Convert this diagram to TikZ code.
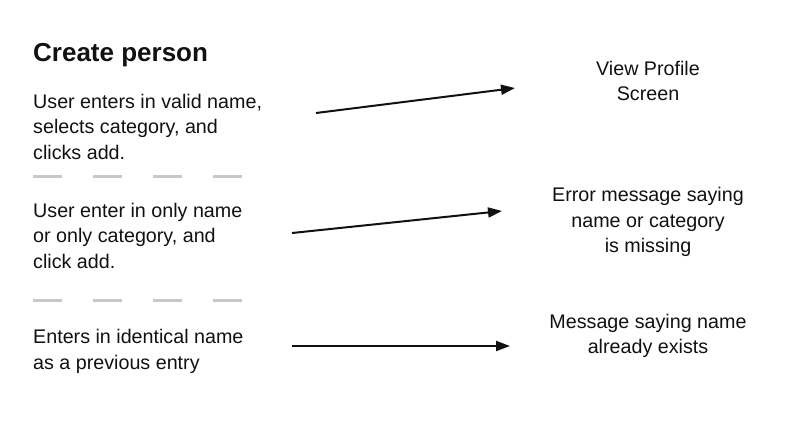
\documentclass[tikz,border=0pt]{standalone}
\usepackage{fontspec}
\setmainfont{Liberation Sans}
\usetikzlibrary{arrows.meta, positioning}
\definecolor{ink}{HTML}{111111}
\definecolor{rule}{HTML}{C8C8C8}

\begin{document}
\begin{tikzpicture}[
  x=1pt, y=-1pt,
  font=\fontsize{19.7}{25.5}\selectfont, color=ink,
  case/.style={anchor=west, align=left, inner sep=0pt},
  result/.style={align=center, inner sep=0pt},
  sep/.style={draw=rule, line width=3pt, dash pattern=on 29pt off 31pt},
  flow/.style={-{Triangle[length=14pt, width=10pt]}, draw=ink, line width=2pt}
]
  \useasboundingbox (0,0) rectangle (800,440);

  \node[anchor=base west, inner sep=0pt, font=\fontsize{26}{30}\selectfont\bfseries] (title) at (33,61) {Create person};

  \node[case] (c1) at (33,126.5) {User enters in valid name,\\selects category, and\\clicks add.};
  \node[case] (c2) at (33,235.5) {User enter in only name\\or only category, and\\click add.};
  \node[case] (c3) at (33,351.5) {Enters in identical name\\as a previous entry};

  \node[result] (r1) at (648,81) {View Profile\\Screen};
  \node[result] (r2) at (648,222) {Error message saying\\name or category\\is missing};
  \node[result] (r3) at (648,336) {Message saying name\\already exists};

  \draw[sep] (33,176) -- (242,176);
  \draw[sep] (33,300) -- (242,300);

  \coordinate (a1) at (316,113);
  \coordinate (b1) at (515,88);
  \coordinate (a2) at (292,233);
  \coordinate (b2) at (502,211);
  \coordinate (a3) at (292,346);
  \coordinate (b3) at (510,346);

  \draw[flow] (a1) -- (b1);
  \draw[flow] (a2) -- (b2);
  \draw[flow] (a3) -- (b3);
\end{tikzpicture}
\end{document}
